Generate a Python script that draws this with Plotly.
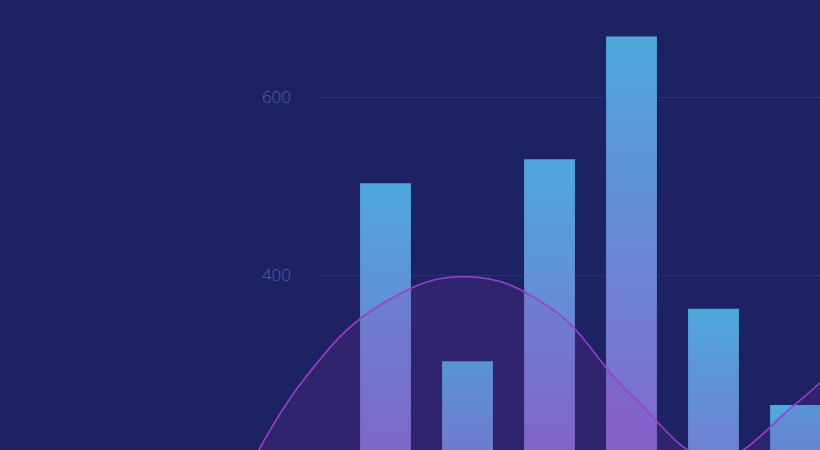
import plotly.graph_objects as go

# ---- data ----
bar_positions = [0, 1, 2, 3, 4, 5]
bar_values = [503, 303, 530, 668, 362, 254]
curve_positions = [-2, -1, 0, 1, 2, 3, 4, 5, 6]
curve_values = [120, 282, 370, 398, 364, 265, 194, 255, 345]
y_tick_values = [200, 400, 600]
y_tick_labels = ["200", "400", "600"]

# ---- style ----
BG = "#1c2262"
BAR_TOP = "#4ea8dd"
BAR_BOTTOM = "#9b4ec6"
BAR_WIDTH = 0.62
LINE_COLOR = "#9b3fd0"
FILL_COLOR = "rgba(150,45,180,0.17)"
LABEL_COLOR = "#5d5ea9"
GRID_COLOR = "#2b3178"

W, H = 820, 450
PX_PER_CAT = 82.0
CAT0_PX = 385.5
GRID_LEFT_PX = 318
Y_TOP = 709.0
Y_BOTTOM = 203.4

fig = go.Figure()

# bars drawn as gradient-filled rectangles on the bar axes
for x, v in zip(bar_positions, bar_values):
    x0, x1 = x - BAR_WIDTH / 2, x + BAR_WIDTH / 2
    fig.add_trace(go.Scatter(
        x=[x0, x0, x1, x1, x0],
        y=[0, v, v, 0, 0],
        mode="none",
        fill="toself",
        fillgradient=dict(type="vertical",
                          colorscale=[[0, BAR_BOTTOM], [1, BAR_TOP]],
                          start=0, stop=v),
        hoverinfo="skip",
        showlegend=False,
        xaxis="x", yaxis="y",
    ))

# smooth area curve on a full-width companion axis
fig.add_trace(go.Scatter(
    x=curve_positions, y=curve_values,
    mode="lines",
    line=dict(color=LINE_COLOR, width=1.6, shape="spline", smoothing=1.2),
    fill="tozeroy", fillcolor=FILL_COLOR,
    hoverinfo="skip", showlegend=False,
    xaxis="x2", yaxis="y2",
))

left_frac = GRID_LEFT_PX / W
x_lo = (GRID_LEFT_PX - CAT0_PX) / PX_PER_CAT
x_hi = (W - CAT0_PX) / PX_PER_CAT
x2_lo = (0 - CAT0_PX) / PX_PER_CAT

fig.update_layout(
    width=W, height=H,
    margin=dict(l=0, r=0, t=0, b=0),
    paper_bgcolor=BG,
    plot_bgcolor="rgba(0,0,0,0)",
    showlegend=False,
    xaxis=dict(domain=[left_frac, 1], range=[x_lo, x_hi],
               showgrid=False, zeroline=False, showticklabels=False,
               showline=False, fixedrange=True),
    yaxis=dict(domain=[0, 1], range=[Y_BOTTOM, Y_TOP],
               tickvals=y_tick_values, ticktext=y_tick_labels,
               showgrid=True, gridcolor=GRID_COLOR, gridwidth=1,
               zeroline=False, showline=False, ticks="",
               ticklabelstandoff=26,
               tickfont=dict(family="Open Sans", size=17, color=LABEL_COLOR, weight=300),
               fixedrange=True),
    xaxis2=dict(domain=[0, 1], range=[x2_lo, x_hi], anchor="y2",
                showgrid=False, zeroline=False, showticklabels=False,
                showline=False, fixedrange=True),
    yaxis2=dict(domain=[0, 1], range=[Y_BOTTOM, Y_TOP], anchor="x2",
                visible=False, showgrid=False, zeroline=False, fixedrange=True),
)

fig.write_html("out.html", config={"displayModeBar": False})
